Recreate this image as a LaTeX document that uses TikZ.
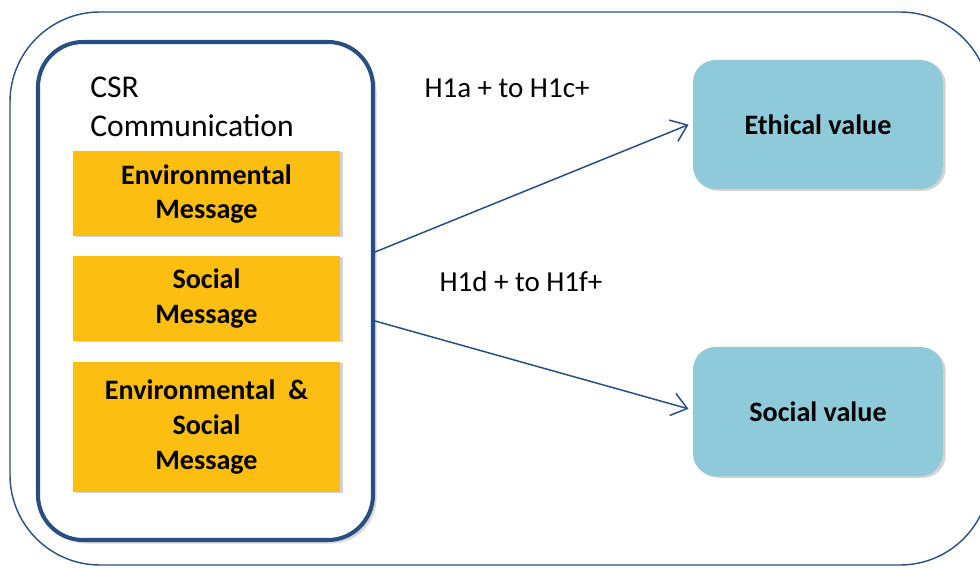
\documentclass[tikz,border=0pt]{standalone}
\usepackage{fontspec}
\setmainfont{Carlito}
\usetikzlibrary{arrows.meta,positioning,shadows}
\definecolor{frameblue}{RGB}{40,78,130}
\definecolor{msgyellow}{RGB}{252,190,16}
\definecolor{valblue}{RGB}{143,202,219}
\begin{document}
\begin{tikzpicture}[line join=round, line cap=round,
    msg/.style={fill=msgyellow, minimum width=5.34cm, align=center, inner sep=0pt,
        font=\fontsize{16}{19.8}\selectfont\bfseries,
        drop shadow={shadow xshift=1.5pt, shadow yshift=-0.5pt, opacity=0.35}},
    val/.style={fill=valblue, rounded corners=0.45cm, minimum width=5cm, minimum height=2.58cm,
        font=\fontsize{16}{19.3}\selectfont\bfseries,
        drop shadow={shadow xshift=1.5pt, shadow yshift=-1pt, opacity=0.35}},
    hyp/.style={font=\fontsize{16.5}{20}\selectfont},
    link/.style={draw=frameblue, line width=0.85pt, -{Straight Barb[length=3mm,width=4.6mm]}}]
    \useasboundingbox (0,0) rectangle (19.6,11.34);
    \clip (0,0) rectangle (19.6,11.34);
    % outer frame
    \draw[frameblue, line width=0.8pt, rounded corners=1.8cm] (0.2,0.04) rectangle (19.8,11.1);
    % inner frame
    \node[draw=frameblue, line width=2.3pt, fill=white, rounded corners=0.9cm, minimum width=6.7cm,
        minimum height=9.96cm, drop shadow={shadow xshift=2pt, shadow yshift=-2pt, opacity=0.3}]
        (csr) at (4.11,5.52) {};
    \node[anchor=north west, align=left, inner sep=0pt, font=\fontsize{18}{22}\selectfont]
        (title) at (1.8,9.8) {CSR\\Communication};
    \node[msg, minimum height=1.7cm] (env) at (4.13,7.46) {Environmental\\Message};
    \node[msg, minimum height=1.7cm] (soc) at (4.13,5.37) {Social\\Message};
    \node[msg, minimum height=2.6cm] (both) at (4.13,2.8) {Environmental\ \ \&\\Social\\Message};
    \node[val] (eth) at (16.36,8.85) {Ethical value};
    \node[val] (socval) at (16.36,3.11) {Social value};
    \node[hyp] (h1) at (10.14,9.58) {H1a + to H1c+};
    \node[hyp] (h2) at (10.42,5.7) {H1d + to H1f+};
    \coordinate (o1) at ([yshift=0.78cm]csr.east);
    \coordinate (o2) at ([yshift=-0.6cm]csr.east);
    \draw[link, shorten >=2.5pt] (o1) -- ([yshift=0.03cm]eth.west);
    \draw[link, shorten >=2.5pt] (o2) -- ([yshift=0.03cm]socval.west);
\end{tikzpicture}
\end{document}
